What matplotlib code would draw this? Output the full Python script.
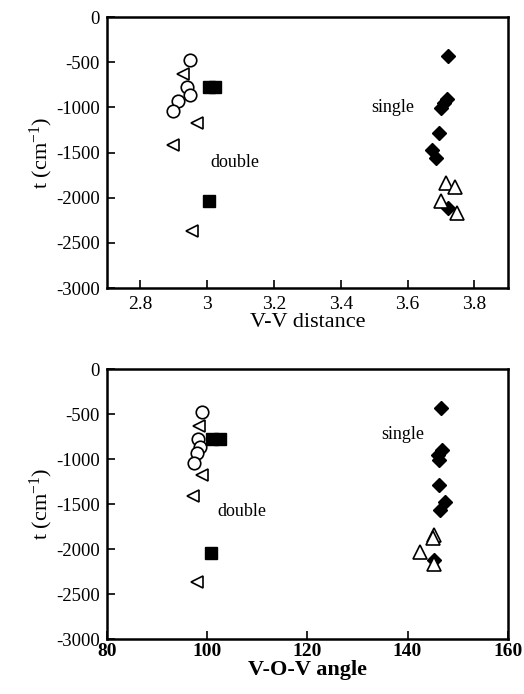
import matplotlib
matplotlib.use("Agg")
import matplotlib.pyplot as plt

# ---- data ----
circ_t = [-480, -775, -865, -935, -1040]
circ_d = [2.950, 2.940, 2.950, 2.912, 2.898]
circ_a = [99.0, 98.2, 98.5, 98.0, 97.3]

ltri_t = [-628, -1172, -1412, -2365]
ltri_d = [2.927, 2.969, 2.899, 2.954]
ltri_a = [98.4, 99.0, 97.2, 97.9]

sq_t = [-772, -772, -2037]
sq_d = [3.005, 3.023, 3.007]
sq_a = [101.0, 102.6, 100.8]

dia_t = [-436, -903, -955, -1010, -1287, -1472, -1564, -2115]
dia_d = [3.721, 3.718, 3.710, 3.700, 3.695, 3.672, 3.686, 3.722]
dia_a = [146.6, 146.9, 146.1, 146.2, 146.2, 147.4, 146.4, 145.2]

utri_t = [-1842, -1879, -2034, -2168]
utri_d = [3.714, 3.741, 3.701, 3.747]
utri_a = [145.3, 145.0, 142.5, 145.2]

yticks = [0, -500, -1000, -1500, -2000, -2500, -3000]
xticks_d = [2.8, 3.0, 3.2, 3.4, 3.6, 3.8]
xticklabels_d = ["2.8", "3", "3.2", "3.4", "3.6", "3.8"]
xticks_a = [80, 100, 120, 140, 160]

plt.rcParams['font.family'] = ['Liberation Serif', 'DejaVu Serif']
plt.rcParams['mathtext.fontset'] = 'custom'
plt.rcParams['mathtext.rm'] = 'Liberation Serif'
plt.rcParams['mathtext.it'] = 'Liberation Serif'
plt.rcParams['mathtext.bf'] = 'Liberation Serif:bold'

fig = plt.figure(figsize=(5.24, 6.94), dpi=100)
ax1 = fig.add_axes([0.204, 0.585, 0.765, 0.3905])
ax2 = fig.add_axes([0.204, 0.079, 0.765, 0.389])

ms = 9
def draw(ax, xs_c, xs_l, xs_s, xs_d, xs_u):
    ax.plot(xs_c, circ_t, 'o', ms=ms, mfc='white', mec='black', mew=1.2, ls='none')
    ax.plot(xs_l, ltri_t, '<', ms=ms-1, mfc='white', mec='black', mew=1.2, ls='none')
    ax.plot(xs_s, sq_t, 's', ms=ms-1, mfc='black', mec='black', ls='none')
    ax.plot(xs_d, dia_t, 'D', ms=ms-2, mfc='black', mec='black', ls='none')
    ax.plot(xs_u, utri_t, '^', ms=ms+1, mfc='white', mec='black', mew=1.2, ls='none')
    ax.set_ylim(-3000, 0)
    ax.set_yticks(yticks)
    ax.set_yticklabels([str(v) for v in yticks])
    ax.tick_params(axis='y', direction='in', length=6, width=1.2, labelsize=13.5, pad=5)
    ax.tick_params(axis='x', direction='in', length=6, width=1.2, labelsize=14)
    ax.tick_params(top=False, right=False)
    for s in ax.spines.values():
        s.set_linewidth(1.8)
    ax.set_ylabel(r't (cm$^{\mathrm{-1}}$)', fontsize=16, labelpad=1)

draw(ax1, circ_d, ltri_d, sq_d, dia_d, utri_d)
ax1.set_xlim(2.7, 3.9)
ax1.set_xticks(xticks_d)
ax1.set_xticklabels(xticklabels_d)
ax1.tick_params(axis='x', pad=6)
ax1.set_xlabel('V-V distance', fontsize=16, labelpad=0)
ax1.text(3.009, -1606, 'double', fontsize=13, va='center', ha='left')
ax1.text(3.492, -1000, 'single', fontsize=13, va='center', ha='left')

draw(ax2, circ_a, ltri_a, sq_a, dia_a, utri_a)
ax2.set_xlim(80, 160)
ax2.set_xticks(xticks_a)
ax2.tick_params(axis='x', pad=3)
for lb in ax2.get_xticklabels():
    lb.set_fontweight('bold')
ax2.set_xlabel('V-O-V angle', fontsize=16, fontweight='bold', labelpad=0)
ax2.text(102.0, -1585, 'double', fontsize=13, va='center', ha='left')
ax2.text(134.8, -722, 'single', fontsize=13, va='center', ha='left')

fig.savefig('out.png', dpi=100)
